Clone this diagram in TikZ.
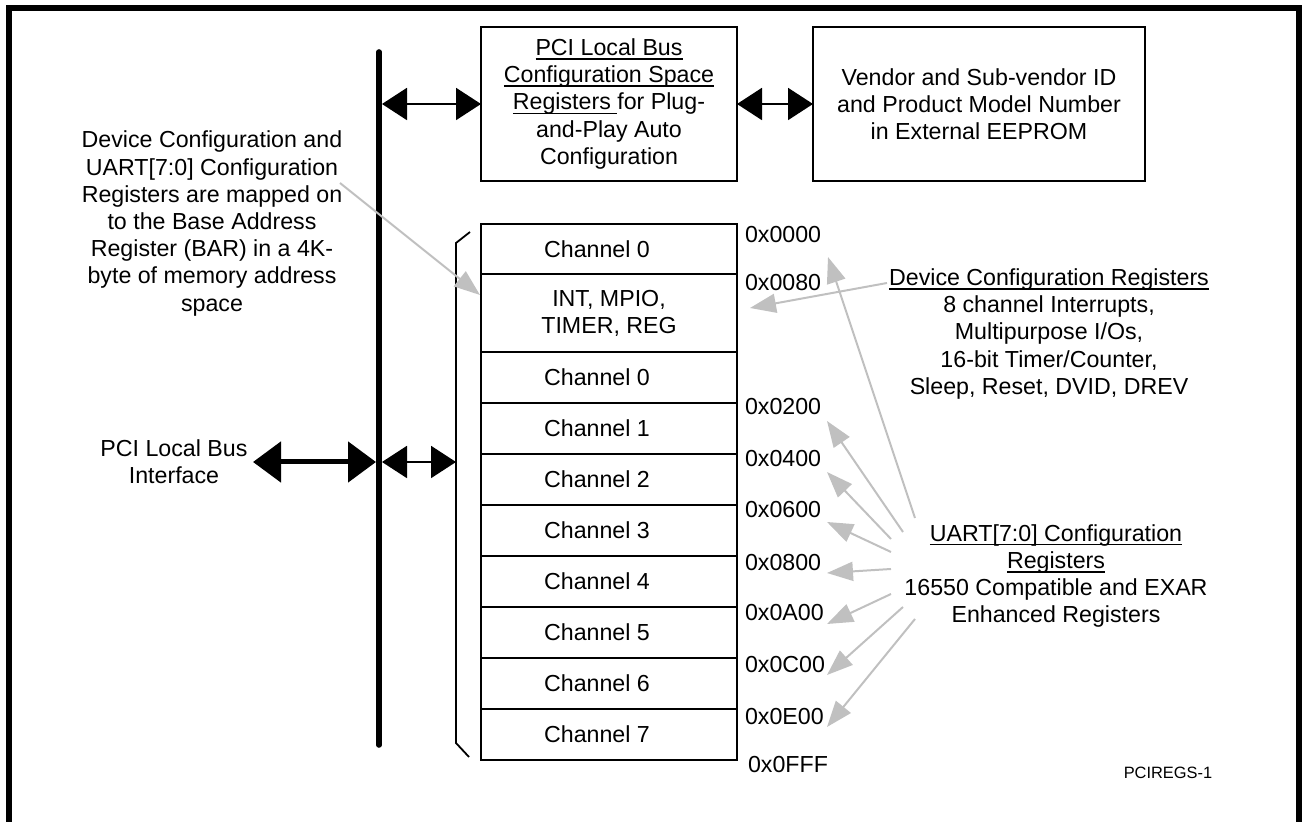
\documentclass[tikz,border=0pt]{standalone}
\usepackage{fontspec}
\setmainfont{Liberation Sans}
\usetikzlibrary{arrows.meta}
\definecolor{garr}{HTML}{C0C0C0}
\newcommand{\ulx}[1]{\setbox0\hbox{#1}\rlap{\rule[-2.1pt]{\wd0}{0.75pt}}\box0}
\begin{document}
\begin{tikzpicture}[x=0.5pt,y=-0.5pt,
  every node/.style={font=\fontsize{11.6}{13.6}\selectfont, inner sep=0pt, outer sep=0pt},
  box/.style={draw, line width=1pt, minimum height=77pt, align=center},
  blk/.style={draw, line width=1pt, minimum width=128pt, align=center, anchor=north},
  txt/.style={align=center},
  addr/.style={anchor=west},
  bidir/.style={line width=1pt, {Triangle[length=12.5pt,width=16pt]}-{Triangle[length=12.5pt,width=16pt]}},
  bigbidir/.style={line width=2.5pt, {Triangle[length=14pt,width=20pt]}-{Triangle[length=14pt,width=20pt]}},
  garrow/.style={draw=garr, line width=1pt, -{Triangle[length=13pt,width=9.5pt,fill=garr,color=garr]}},
]
\useasboundingbox (0,0) rectangle (1302,822);
\clip (0,0) rectangle (1302,822);
% frame
\draw[line width=3pt, line join=miter] (9,840) -- (9,8) -- (1299,8) -- (1299,840);
% bus
\coordinate (bustop) at (379,52);
\coordinate (busbot) at (379,745);
\draw[line width=2.8pt, line cap=round] (bustop) -- (busbot);
% top boxes
\node[box, minimum width=128pt] (cfg) at (609,104) {\ulx{PCI Local Bus}\\ \ulx{Configuration Space}\\ \ulx{Registers\ }for Plug-\\ and-Play Auto\\ Configuration};
\node[box, minimum width=166pt] (ven) at (979,104) {Vendor and Sub-vendor ID\\ and Product Model Number\\ in External EEPROM};
\coordinate (busA) at (382,104);
\draw[bidir] (busA) -- (cfg.west);
\draw[bidir] (cfg.east) -- (ven.west);
% memory map
\node[blk, minimum height=25pt] (r0) at (609,224) {Channel 0\hspace*{12pt}};
\node[blk, minimum height=39pt] (r1) at (r0.south) {INT, MPIO,\\ TIMER, REG};
\node[blk, minimum height=25.5pt] (r2) at (r1.south) {Channel 0\hspace*{12pt}};
\node[blk, minimum height=25.5pt] (r3) at (r2.south) {Channel 1\hspace*{12pt}};
\node[blk, minimum height=25.5pt] (r4) at (r3.south) {Channel 2\hspace*{12pt}};
\node[blk, minimum height=25.5pt] (r5) at (r4.south) {Channel 3\hspace*{12pt}};
\node[blk, minimum height=25.5pt] (r6) at (r5.south) {Channel 4\hspace*{12pt}};
\node[blk, minimum height=25.5pt] (r7) at (r6.south) {Channel 5\hspace*{12pt}};
\node[blk, minimum height=25.5pt] (r8) at (r7.south) {Channel 6\hspace*{12pt}};
\node[blk, minimum height=25.5pt] (r9) at (r8.south) {Channel 7\hspace*{12pt}};
% bracket
\draw[line width=0.9pt] (470,232) -- (456,243) -- (456,743) -- (469,757);
\coordinate (brk) at (456,462);
% addresses
\node[addr] (a0000) at (745,235) {0x0000};
\node[addr] (a0080) at (745,283) {0x0080};
\node[addr] (a0200) at (745,407) {0x0200};
\node[addr] (a0400) at (745,459) {0x0400};
\node[addr] (a0600) at (745,510) {0x0600};
\node[addr] (a0800) at (745,563) {0x0800};
\node[addr] (a0A00) at (745,613) {0x0A00};
\node[addr] (a0C00) at (745,665) {0x0C00};
\node[addr] (a0E00) at (745,717) {0x0E00};
\node[addr] (a0FFF) at (748,765) {0x0FFF};
% PCI interface
\node[txt] (pci) at (174,462) {PCI Local Bus\\ Interface};
\coordinate (pciR) at (253,462);
\coordinate (busL) at (376,462);
\coordinate (busR) at (382,462);
\draw[bigbidir] (pciR) -- (busL);
\draw[bidir] (busR) -- (brk);
% left text
\node[txt] (left) at (212,223.5) {Device Configuration and\\ UART[7:0] Configuration\\ Registers are mapped on\\ to the Base Address\\ Register (BAR) in a 4K-\\ byte of memory address\\ space};
\coordinate (leftS) at (340,183);
\coordinate (leftT) at (480,295);
\draw[garrow] (leftS) -- (leftT);
% device config text
\node[txt] (dev) at (1049,334) {\ulx{Device Configuration Registers}\\ 8 channel Interrupts,\\ Multipurpose I/Os,\\ 16-bit Timer/Counter,\\ Sleep, Reset, DVID, DREV};
\coordinate (devS) at (887,283);
\coordinate (devT) at (750,308);
\draw[garrow] (devS) -- (devT);
% uart text
\node[txt] (uart) at (1056,576) {\ulx{UART[7:0] Configuration}\\ \ulx{Registers}\\ 16550 Compatible and EXAR\\ Enhanced Registers};
\coordinate (s0) at (915,518);  \coordinate (t0) at (828,257);
\coordinate (s1) at (903,532);  \coordinate (t1) at (827,421);
\coordinate (s2) at (891,539);  \coordinate (t2) at (827,472);
\coordinate (s3) at (891,552);  \coordinate (t3) at (827,522);
\coordinate (s4) at (891,569);  \coordinate (t4) at (827,573);
\coordinate (s5) at (891,594);  \coordinate (t5) at (827,624);
\coordinate (s6) at (903,607);  \coordinate (t6) at (827,675);
\coordinate (s7) at (915,619);  \coordinate (t7) at (827,727);
\foreach \i in {0,...,7} {\draw[garrow] (s\i) -- (t\i);}
% figure id
\node[font=\fontsize{8.2}{9.5}\selectfont] (fid) at (1168,773) {PCIREGS-1};
\end{tikzpicture}
\end{document}
